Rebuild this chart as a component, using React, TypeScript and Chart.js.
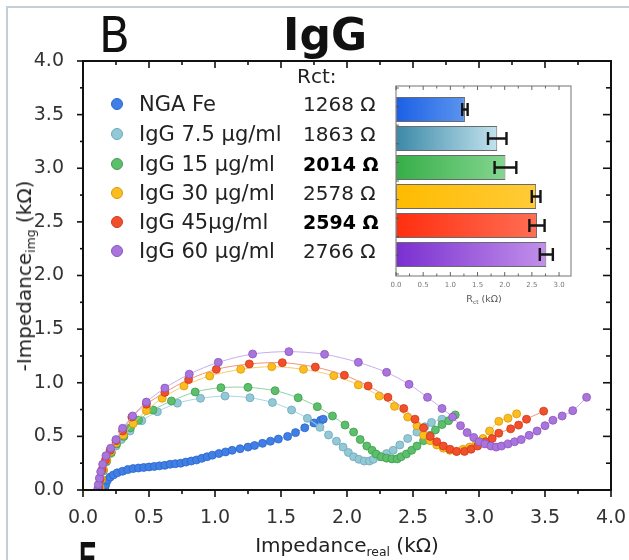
import React, { useEffect, useRef } from "react";
import { Chart, registerables } from "chart.js";
Chart.register(...registerables);

const FONT = "'DejaVu Sans', sans-serif";

const seriesLabels = ["NGA Fe", "IgG 7.5 μg/ml", "IgG 15 μg/ml", "IgG 30 μg/ml", "IgG 45μg/ml", "IgG 60 μg/ml"];
const rctText = ["1268 Ω", "1863 Ω", "2014 Ω", "2578 Ω", "2594 Ω", "2766 Ω"];
const rctBold = [false, false, true, false, true, false];
const rctValues = [1.268, 1.863, 2.014, 2.578, 2.594, 2.766];
const rctErrors = [0.05, 0.17, 0.2, 0.08, 0.14, 0.12];

const ngaFe: number[][] = [
  [0.165, 0.02], [0.172, 0.05], [0.185, 0.09], [0.205, 0.12], [0.23, 0.14], [0.26, 0.16], [0.3, 0.175],
  [0.34, 0.19], [0.38, 0.2], [0.42, 0.205], [0.46, 0.21], [0.5, 0.215], [0.54, 0.22], [0.58, 0.225],
  [0.62, 0.23], [0.66, 0.24], [0.7, 0.245], [0.74, 0.25], [0.78, 0.26], [0.82, 0.27], [0.86, 0.28],
  [0.9, 0.295], [0.94, 0.31], [0.98, 0.325], [1.03, 0.34], [1.08, 0.355], [1.13, 0.37], [1.19, 0.385],
  [1.25, 0.4], [1.3, 0.415], [1.36, 0.435], [1.42, 0.455], [1.48, 0.475], [1.55, 0.5], [1.61, 0.535],
  [1.68, 0.58], [1.75, 0.625], [1.8, 0.65], [1.82, 0.66],
];
const igg75: number[][] = [
  [0.125, 0.02], [0.135, 0.1], [0.15, 0.18], [0.175, 0.26], [0.21, 0.34], [0.25, 0.41], [0.29, 0.47],
  [0.356, 0.55], [0.445, 0.646], [0.563, 0.73], [0.715, 0.81], [0.89, 0.855], [1.076, 0.876],
  [1.265, 0.86], [1.435, 0.816], [1.58, 0.746], [1.7, 0.668], [1.795, 0.584], [1.86, 0.513],
  [1.92, 0.455], [1.97, 0.4], [2.01, 0.35], [2.05, 0.31], [2.09, 0.286], [2.13, 0.27], [2.17, 0.27],
  [2.2, 0.286], [2.25, 0.31], [2.3, 0.34], [2.35, 0.37], [2.4, 0.42], [2.46, 0.48], [2.53, 0.54],
  [2.59, 0.59], [2.64, 0.63], [2.72, 0.66],
];
const igg15: number[][] = [
  [0.13, 0.02], [0.14, 0.1], [0.155, 0.18], [0.18, 0.27], [0.215, 0.35], [0.255, 0.43], [0.31, 0.5],
  [0.36, 0.58], [0.42, 0.65], [0.53, 0.746], [0.67, 0.83], [0.85, 0.914], [1.045, 0.954], [1.25, 0.957],
  [1.455, 0.926], [1.63, 0.86], [1.775, 0.777], [1.89, 0.69], [1.985, 0.606], [2.05, 0.54], [2.1, 0.47],
  [2.15, 0.41], [2.19, 0.37], [2.22, 0.335], [2.26, 0.31], [2.3, 0.297], [2.34, 0.29], [2.38, 0.29],
  [2.41, 0.31], [2.45, 0.335], [2.49, 0.37], [2.53, 0.41], [2.58, 0.46], [2.63, 0.51], [2.67, 0.56],
  [2.72, 0.61], [2.77, 0.646], [2.82, 0.7],
];
const igg30: number[][] = [
  [0.13, 0.02], [0.14, 0.1], [0.155, 0.19], [0.18, 0.28], [0.21, 0.36], [0.25, 0.44], [0.305, 0.513],
  [0.38, 0.62], [0.48, 0.74], [0.6, 0.855], [0.765, 0.97], [0.96, 1.063], [1.195, 1.125], [1.43, 1.15],
  [1.67, 1.125], [1.9, 1.066], [2.086, 0.98], [2.245, 0.876], [2.36, 0.78], [2.46, 0.68], [2.53, 0.6],
  [2.58, 0.51], [2.63, 0.46], [2.68, 0.42], [2.73, 0.39], [2.78, 0.37], [2.83, 0.36], [2.88, 0.38],
  [2.93, 0.4], [2.98, 0.43], [3.03, 0.48], [3.08, 0.55], [3.15, 0.64], [3.22, 0.67], [3.285, 0.71],
];
const igg45: number[][] = [
  [0.12, 0.02], [0.13, 0.1], [0.145, 0.19], [0.17, 0.28], [0.205, 0.37], [0.25, 0.46], [0.3, 0.55],
  [0.37, 0.68], [0.48, 0.8], [0.62, 0.91], [0.8, 1.03], [1.01, 1.125], [1.26, 1.175], [1.51, 1.187],
  [1.76, 1.146], [1.98, 1.07], [2.16, 0.97], [2.31, 0.864], [2.43, 0.76], [2.515, 0.66], [2.58, 0.58],
  [2.63, 0.5], [2.68, 0.45], [2.73, 0.41], [2.78, 0.38], [2.83, 0.36], [2.89, 0.36], [2.94, 0.38],
  [2.99, 0.41], [3.05, 0.45], [3.1, 0.48], [3.15, 0.53], [3.24, 0.57], [3.3, 0.605], [3.36, 0.66],
  [3.49, 0.735],
];
const igg60: number[][] = [
  [0.112, 0.01], [0.116, 0.05], [0.124, 0.11], [0.134, 0.17], [0.149, 0.24], [0.174, 0.32], [0.21, 0.39],
  [0.25, 0.47], [0.3, 0.575], [0.376, 0.69], [0.48, 0.82], [0.62, 0.95], [0.805, 1.08], [1.025, 1.19],
  [1.285, 1.268], [1.56, 1.29], [1.83, 1.265], [2.086, 1.19], [2.3, 1.097], [2.47, 0.985], [2.61, 0.864],
  [2.72, 0.76], [2.8, 0.68], [2.86, 0.6], [2.91, 0.535], [2.96, 0.49], [3.0, 0.45], [3.045, 0.43],
  [3.09, 0.41], [3.13, 0.4], [3.17, 0.41], [3.22, 0.43], [3.27, 0.45], [3.32, 0.47], [3.38, 0.51],
  [3.44, 0.55], [3.5, 0.6], [3.56, 0.65], [3.63, 0.69], [3.71, 0.74], [3.815, 0.864],
];
const allSeries = [ngaFe, igg75, igg15, igg30, igg45, igg60];

const pointFill = ["#3f7fe6", "#93c9d6", "#5dbf6b", "#fbbd1f", "#f2502c", "#a974dc"];
const pointEdge = ["#2c66c8", "#6ea7b8", "#3e9d4d", "#d99b00", "#cf3a18", "#8a55c0"];
const lineColor = ["#8fb2ee", "#a9d5e0", "#8ed29c", "#f6cc6a", "#f39478", "#cbabee"];
const barStart = ["#1b5fe6", "#3b89a8", "#36ae48", "#ffbb00", "#ff2f0f", "#7a2fd0"];
const barEnd = ["#5b95ee", "#c2e2ed", "#84d690", "#ffcb38", "#ff6e54", "#c290ea"];

const mainFrame = {
  id: "mainFrame",
  afterDraw(chart: any) {
    const { ctx, chartArea } = chart;
    const { left, right, top, bottom } = chartArea;
    const xs = chart.scales.x;
    const ys = chart.scales.y;
    ctx.save();
    ctx.strokeStyle = "#111";
    ctx.lineWidth = 2;
    ctx.strokeRect(left, top, right - left, bottom - top);
    ctx.lineWidth = 1.6;
    const seg = (a: number, b: number, c: number, d: number) => {
      ctx.beginPath();
      ctx.moveTo(a, b);
      ctx.lineTo(c, d);
      ctx.stroke();
    };
    for (let k = 0; k <= 16; k++) {
      const v = k * 0.25;
      const major = k % 2 === 0;
      const px = xs.getPixelForValue(v);
      seg(px, bottom, px, bottom + (major ? 7 : 4));
      seg(px, top, px, top + (major ? 7 : 4));
      const py = ys.getPixelForValue(v);
      seg(left, py, left - (major ? 6 : 3), py);
      seg(right, py, right - (major ? 8 : 5), py);
    }
    ctx.restore();
  },
};

const INSET_PAD_TOP = 9;
const INSET_PAD_BOTTOM = 7;

const insetPlugin = {
  id: "insetPlugin",
  beforeDraw(chart: any) {
    const { ctx, chartArea } = chart;
    ctx.save();
    ctx.fillStyle = "#ffffff";
    ctx.fillRect(
      chartArea.left,
      chartArea.top - INSET_PAD_TOP,
      chartArea.right - chartArea.left,
      chartArea.bottom - chartArea.top + INSET_PAD_TOP + INSET_PAD_BOTTOM
    );
    ctx.restore();
  },
  afterDraw(chart: any) {
    const { ctx, chartArea } = chart;
    const left = chartArea.left;
    const right = chartArea.right;
    const top = chartArea.top - INSET_PAD_TOP;
    const bottom = chartArea.bottom + INSET_PAD_BOTTOM;
    const xs = chart.scales.x;
    const ys = chart.scales.y;
    ctx.save();
    ctx.strokeStyle = "#151515";
    ctx.lineWidth = 2.4;
    rctValues.forEach((v, i) => {
      const e = rctErrors[i];
      const x0 = xs.getPixelForValue(v - e);
      const x1 = xs.getPixelForValue(v + e);
      const py = ys.getPixelForValue(i);
      ctx.beginPath();
      ctx.moveTo(x0, py);
      ctx.lineTo(x1, py);
      ctx.moveTo(x0, py - 6.5);
      ctx.lineTo(x0, py + 6.5);
      ctx.moveTo(x1, py - 6.5);
      ctx.lineTo(x1, py + 6.5);
      ctx.stroke();
    });
    ctx.strokeStyle = "#8a8a8a";
    ctx.lineWidth = 1.2;
    ctx.strokeRect(left, top, right - left, bottom - top);
    ctx.strokeStyle = "#555";
    ctx.lineWidth = 0.9;
    const seg = (a: number, b: number, c: number, d: number) => {
      ctx.beginPath();
      ctx.moveTo(a, b);
      ctx.lineTo(c, d);
      ctx.stroke();
    };
    for (let k = 0; k <= 12; k++) {
      const px = xs.getPixelForValue(k * 0.25);
      const len = k % 2 === 0 ? 4 : 2.5;
      seg(px, bottom, px, bottom - len);
      seg(px, top, px, top + len);
    }
    for (let k = 0; k <= 10; k++) {
      const py = top + 2 + (k * (bottom - top - 4)) / 10;
      seg(left, py, left + 3, py);
    }
    ctx.restore();
  },
};

export default function App() {
  const mainRef = useRef<HTMLCanvasElement>(null);
  const insetRef = useRef<HTMLCanvasElement>(null);

  useEffect(() => {
    const datasets = allSeries.map((pts, i) => ({
      label: seriesLabels[i],
      data: pts.map(([x, y]) => ({ x, y })),
      showLine: true,
      borderColor: lineColor[i],
      borderWidth: 1,
      tension: 0.3,
      pointRadius: 4,
      pointBackgroundColor: pointFill[i],
      pointBorderColor: pointEdge[i],
      pointBorderWidth: 0.8,
      order: 5 - i,
    }));
    const main = new Chart(mainRef.current as HTMLCanvasElement, {
      type: "scatter",
      data: { datasets },
      options: {
        animation: false,
        responsive: false,
        maintainAspectRatio: false,
        layout: { padding: { top: 61, right: 18, left: 0, bottom: 0 } },
        plugins: { legend: { display: false }, tooltip: { enabled: false } },
        scales: {
          x: {
            type: "linear",
            min: 0,
            max: 4,
            grid: { display: false },
            border: { display: false },
            ticks: {
              stepSize: 0.5,
              autoSkip: false,
              maxRotation: 0,
              padding: 9,
              color: "#333",
              font: { family: FONT, size: 19 },
              callback: (v: any) => Number(v).toFixed(1),
            },
            afterFit: (s: any) => {
              s.height = 70;
              s.paddingLeft = 0;
              s.paddingRight = 0;
            },
          },
          y: {
            type: "linear",
            min: 0,
            max: 4,
            grid: { display: false },
            border: { display: false },
            ticks: {
              stepSize: 0.5,
              autoSkip: false,
              padding: 11,
              color: "#333",
              font: { family: FONT, size: 19 },
              callback: (v: any) => Number(v).toFixed(1),
            },
            afterFit: (s: any) => {
              s.width = 83;
              s.paddingTop = 0;
              s.paddingBottom = 0;
            },
          },
        },
      } as any,
      plugins: [mainFrame],
    });

    const inset = new Chart(insetRef.current as HTMLCanvasElement, {
      type: "bar",
      data: {
        labels: seriesLabels,
        datasets: [
          {
            data: rctValues,
            backgroundColor: (c: any) => {
              const i = c.dataIndex;
              const chart = c.chart;
              if (!chart.chartArea || i === undefined) return barStart[i || 0];
              const xs = chart.scales.x;
              const g = chart.ctx.createLinearGradient(xs.getPixelForValue(0), 0, xs.getPixelForValue(rctValues[i]), 0);
              g.addColorStop(0, barStart[i]);
              g.addColorStop(1, barEnd[i]);
              return g;
            },
            borderColor: "#6a6a6a",
            borderWidth: 1,
            borderSkipped: false,
            categoryPercentage: 1,
            barPercentage: 0.86,
          },
        ],
      },
      options: {
        indexAxis: "y",
        animation: false,
        responsive: false,
        maintainAspectRatio: false,
        layout: { padding: { top: 15, left: 16, right: 19, bottom: 0 } },
        plugins: { legend: { display: false }, tooltip: { enabled: false } },
        scales: {
          x: {
            type: "linear",
            min: 0,
            max: 3.22,
            grid: { display: false },
            border: { display: false },
            ticks: {
              stepSize: 0.5,
              includeBounds: false,
              autoSkip: false,
              maxRotation: 0,
              padding: 4,
              color: "#777",
              font: { family: FONT, size: 7 },
              callback: (v: any) => Number(v).toFixed(1),
            },
            afterFit: (s: any) => {
              s.height = 41;
              s.paddingLeft = 0;
              s.paddingRight = 0;
            },
          },
          y: {
            type: "category",
            offset: true,
            display: false,
          },
        },
      } as any,
      plugins: [insetPlugin],
    });

    return () => {
      main.destroy();
      inset.destroy();
    };
  }, []);

  const abs = (o: React.CSSProperties): React.CSSProperties => ({ position: "absolute", whiteSpace: "nowrap", ...o });
  const rowY = [104, 134, 164, 193, 222, 251];
  const subStyle: React.CSSProperties = { fontSize: "0.62em", position: "relative", top: "0.35em" };

  return (
    <div
      style={{
        position: "fixed",
        left: 0,
        top: 0,
        width: 629,
        height: 560,
        overflow: "hidden",
        background: "#fff",
        fontFamily: FONT,
        color: "#222",
      }}
    >
      <div style={abs({ left: 6, top: 6, width: 700, height: 700, borderTop: "2px solid #c3ced6", borderLeft: "2px solid #c3ced6" })} />
      <canvas ref={mainRef} width={629} height={560} style={{ position: "absolute", left: 0, top: 0, width: 629, height: 560 }} />
      <canvas ref={insetRef} width={210} height={230} style={{ position: "absolute", left: 380, top: 80, width: 210, height: 230 }} />

      <div style={abs({ left: 99, top: 10, fontFamily: "'Liberation Sans Narrow', 'DejaVu Sans Condensed', sans-serif", fontSize: 50, lineHeight: "50px", fontWeight: 300, color: "#111" })}>B</div>
      <div style={abs({ left: 325, top: 13, transform: "translateX(-50%)", fontSize: 44, lineHeight: "44px", fontWeight: 700, color: "#111" })}>IgG</div>

      <div style={abs({ left: 297, top: 64, fontSize: 20, lineHeight: "24px", color: "#222" })}>Rct:</div>
      {seriesLabels.map((s, i) => (
        <React.Fragment key={s}>
          <div
            style={abs({
              left: 111,
              top: rowY[i] - 6,
              width: 12,
              height: 12,
              borderRadius: "50%",
              background: pointFill[i],
              boxSizing: "border-box",
              border: `1px solid ${pointEdge[i]}`,
            })}
          />
          <div style={abs({ left: 139, top: rowY[i] - 13, fontSize: 21, lineHeight: "26px" })}>{s}</div>
          <div style={abs({ left: 303, top: rowY[i] - 13, fontSize: rctBold[i] ? 19 : 20, lineHeight: "26px", fontWeight: rctBold[i] ? 700 : 400, color: rctBold[i] ? "#000" : "#222" })}>
            {rctText[i]}
          </div>
        </React.Fragment>
      ))}

      <div style={abs({ left: 484, top: 298, transform: "translate(-50%,-50%)", fontSize: 9.5, color: "#555" })}>
        R<span style={subStyle}>ct</span> (kΩ)
      </div>

      <div style={abs({ left: 347, top: 545, transform: "translate(-50%,-50%)", fontSize: 20, color: "#222" })}>
        Impedance<span style={subStyle}>real</span> (kΩ)
      </div>
      <div style={abs({ left: 24, top: 276, transform: "translate(-50%,-50%) rotate(-90deg)", fontSize: 20, color: "#222" })}>
        -Impedance<span style={subStyle}>img</span> (kΩ)
      </div>
      <div style={abs({ left: 79, top: 535, fontSize: 48, lineHeight: "48px", fontWeight: 700, color: "#111", fontFamily: "'Liberation Sans Narrow', sans-serif", transform: "scaleX(0.55)", transformOrigin: "left top" })}>E</div>
    </div>
  );
}
